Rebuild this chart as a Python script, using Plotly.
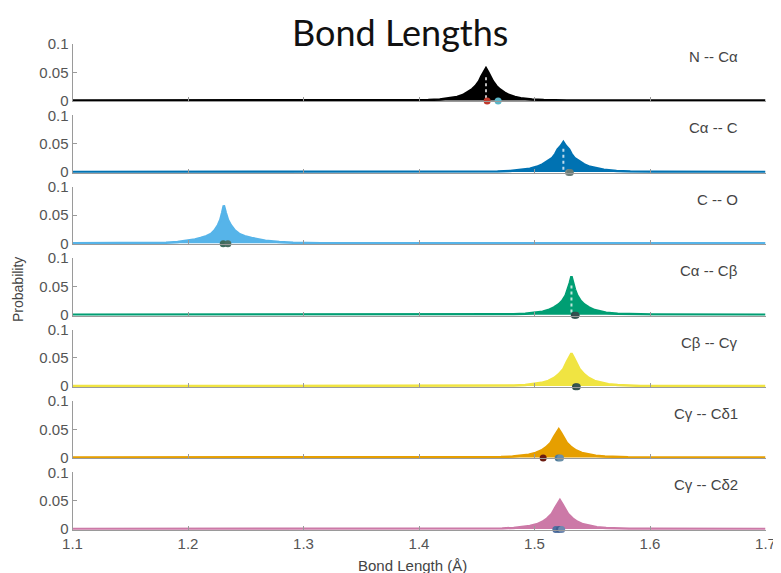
import plotly.graph_objects as go

# ---------------- data ----------------
labels = ["N -- Cα", "Cα -- C", "C -- O", "Cα -- Cβ", "Cβ -- Cγ", "Cγ -- Cδ1", "Cγ -- Cδ2"]
colors = ["#000000", "#0072B2", "#56B4E9", "#009E73", "#F0E442", "#E69F00", "#CC79A7"]

x_n_ca = [1.10, 1.388, 1.408, 1.418, 1.428, 1.433, 1.438, 1.442, 1.446, 1.449, 1.452, 1.454, 1.456, 1.458,
          1.460, 1.462, 1.464, 1.467, 1.470, 1.474, 1.478, 1.483, 1.488, 1.498, 1.508, 1.528, 1.70]
y_n_ca = [0, 0.0002, 0.0007, 0.0017, 0.004, 0.0063, 0.0097, 0.0143, 0.020, 0.0257, 0.0342, 0.0428, 0.050, 0.057,
          0.050, 0.0425, 0.034, 0.0255, 0.0198, 0.0142, 0.0097, 0.0063, 0.004, 0.0017, 0.0007, 0.0002, 0]

x_ca_c = [1.10, 1.445, 1.468, 1.479, 1.491, 1.496, 1.502, 1.507, 1.511, 1.515, 1.518, 1.520, 1.523, 1.525,
          1.527, 1.530, 1.532, 1.535, 1.539, 1.543, 1.548, 1.554, 1.560, 1.571, 1.583, 1.605, 1.70]
y_ca_c = [0, 0.0002, 0.0006, 0.0016, 0.0037, 0.0058, 0.009, 0.0133, 0.0186, 0.0239, 0.0318, 0.0398, 0.0466, 0.053,
          0.0466, 0.0398, 0.0318, 0.0239, 0.0186, 0.0133, 0.009, 0.0058, 0.0037, 0.0016, 0.0006, 0.0002, 0]

x_c_o = [1.10, 1.161, 1.181, 1.191, 1.201, 1.206, 1.211, 1.216, 1.220, 1.223, 1.226, 1.228, 1.2295, 1.231,
         1.2328, 1.2346, 1.237, 1.2406, 1.2442, 1.249, 1.255, 1.261, 1.267, 1.279, 1.291, 1.315, 1.70]
y_c_o = [0, 0.0003, 0.001, 0.0023, 0.0047, 0.0067, 0.0094, 0.0127, 0.0168, 0.0228, 0.0322, 0.0415, 0.0536, 0.067,
         0.0536, 0.0415, 0.0322, 0.0228, 0.0168, 0.0127, 0.0094, 0.0067, 0.0047, 0.0023, 0.001, 0.0003, 0]

x_ca_cb = [1.10, 1.462, 1.482, 1.492, 1.502, 1.507, 1.512, 1.517, 1.521, 1.524, 1.527, 1.529, 1.5305, 1.532,
           1.5335, 1.535, 1.537, 1.540, 1.543, 1.547, 1.552, 1.557, 1.562, 1.572, 1.582, 1.602, 1.70]
y_ca_cb = [0, 0.0002, 0.0007, 0.0016, 0.0035, 0.0054, 0.0082, 0.0129, 0.0184, 0.0245, 0.034, 0.0449, 0.0558, 0.068,
           0.0558, 0.0449, 0.034, 0.0245, 0.0184, 0.0129, 0.0082, 0.0054, 0.0035, 0.0016, 0.0007, 0.0002, 0]

x_cb_cg = [1.10, 1.452, 1.472, 1.482, 1.492, 1.500, 1.506, 1.512, 1.517, 1.521, 1.525, 1.528, 1.530, 1.532,
           1.534, 1.536, 1.539, 1.543, 1.547, 1.552, 1.558, 1.564, 1.572, 1.582, 1.592, 1.612, 1.70]
y_cb_cg = [0, 0.0001, 0.0003, 0.0009, 0.002, 0.0035, 0.0058, 0.0093, 0.0145, 0.0209, 0.0302, 0.0429, 0.0505, 0.058,
           0.0505, 0.0429, 0.0302, 0.0209, 0.0145, 0.0093, 0.0058, 0.0035, 0.002, 0.0009, 0.0003, 0.0001, 0]

x_cg_cd1 = [1.10, 1.441, 1.461, 1.471, 1.481, 1.489, 1.495, 1.501, 1.506, 1.510, 1.514, 1.517, 1.519, 1.521,
            1.523, 1.525, 1.528, 1.532, 1.536, 1.541, 1.547, 1.553, 1.561, 1.571, 1.581, 1.601, 1.70]
y_cg_cd1 = [0, 0.0001, 0.0003, 0.0008, 0.0017, 0.003, 0.005, 0.008, 0.0125, 0.018, 0.026, 0.037, 0.0435, 0.050,
            0.0435, 0.037, 0.026, 0.018, 0.0125, 0.008, 0.005, 0.003, 0.0017, 0.0008, 0.0003, 0.0001, 0]

x_cg_cd2 = [1.10, 1.442, 1.462, 1.472, 1.482, 1.490, 1.496, 1.502, 1.507, 1.511, 1.515, 1.518, 1.520, 1.522,
            1.524, 1.526, 1.529, 1.533, 1.537, 1.542, 1.548, 1.554, 1.562, 1.572, 1.582, 1.602, 1.70]
y_cg_cd2 = [0, 0.0001, 0.0003, 0.0008, 0.0017, 0.0031, 0.0051, 0.0082, 0.0128, 0.0184, 0.0265, 0.0377, 0.0444, 0.051,
            0.0444, 0.0377, 0.0265, 0.0184, 0.0128, 0.0082, 0.0051, 0.0031, 0.0017, 0.0008, 0.0003, 0.0001, 0]

series_x = [x_n_ca, x_ca_c, x_c_o, x_ca_cb, x_cb_cg, x_cg_cd1, x_cg_cd2]
series_y = [y_n_ca, y_ca_c, y_c_o, y_ca_cb, y_cb_cg, y_cg_cd1, y_cg_cd2]
# panels whose peak shows a white dotted centre streak
dotted_panels = [0, 1, 3]

# reference-value markers near the baseline of each panel
marker_x = [[1.459, 1.4685], [1.5295, 1.531], [1.2305, 1.2345], [1.5345, 1.536],
            [1.5355, 1.537], [1.5075, 1.5205, 1.5225], [1.5185, 1.5215, 1.5235]]
marker_y = [[-0.001, -0.001], [-0.001, -0.001], [-0.001, -0.001], [-0.001, -0.001],
            [-0.001, -0.001], [-0.001, -0.001, -0.001], [-0.001, -0.001, -0.001]]
marker_c = [["#c0392b", "#5bb6c8"], ["#7d8c86", "#6a7d78"], ["#3e6b5c", "#4b6f63"], ["#2b4a4a", "#33504f"],
            ["#2e4d47", "#375650"], ["#6b1a10", "#4d7c9c", "#6a8fa8"], ["#4f6fa0", "#3f5f90", "#6f88b0"]]

x_ticks = [1.1, 1.2, 1.3, 1.4, 1.5, 1.6, 1.7]
x_tick_text = ["1.1", "1.2", "1.3", "1.4", "1.5", "1.6", "1.7"]
y_ticks = [0, 0.05, 0.1]
y_tick_text = ["0", "0.05", "0.1"]

# ---------------- figure ----------------
WIN_W, WIN_H = 781, 573
OFF = 8  # default page body margin of the written html
W, H = WIN_W - OFF, WIN_H - OFF


def px_x(px):
    return (px - OFF) / W


def px_y(py):
    return 1 - (py - OFF) / H


left_px, right_px = 72.5, 765.5
top0, pitch, panel_h = 44.0, 71.4, 57.35

fig = go.Figure()
layout = dict(
    width=W, height=H, margin=dict(l=0, r=0, t=0, b=0, autoexpand=False),
    paper_bgcolor="white", plot_bgcolor="white", showlegend=False,
    font=dict(family="Liberation Sans, Arial, sans-serif", color="#555555"),
)
annotations = []
gray = "#9a9a9a"
tick_font = dict(size=15, color="#555555", family="Liberation Sans, Arial, sans-serif")
for i in range(7):
    n = "" if i == 0 else str(i + 1)
    xa, ya = "x" + n, "y" + n
    top = top0 + pitch * i
    bot = top + panel_h
    xdict = dict(
        domain=[px_x(left_px), px_x(right_px)], range=[1.1, 1.7], anchor=ya, automargin=False,
        showline=True, linecolor=gray, linewidth=1, ticks="inside", ticklen=4, tickcolor=gray,
        tickvals=x_ticks, ticktext=x_tick_text, showticklabels=(i == 6),
        showgrid=False, zeroline=False, tickfont=tick_font,
    )
    if i > 0:
        xdict["matches"] = "x"
    layout["xaxis" + n] = xdict
    layout["yaxis" + n] = dict(
        domain=[px_y(bot), px_y(top)], range=[-0.0015, 0.1], anchor=xa, automargin=False,
        showline=True, linecolor=gray, linewidth=1, ticks="inside", ticklen=4, tickcolor=gray,
        tickvals=y_ticks, ticktext=y_tick_text, showgrid=False, zeroline=False,
        tickfont=tick_font,
    )
    fig.add_trace(go.Scatter(
        x=series_x[i], y=series_y[i], mode="lines", fill="tozeroy",
        fillcolor=colors[i], line=dict(color=colors[i], width=2.5),
        xaxis=xa, yaxis=ya, hoverinfo="skip"))
    if i in dotted_panels:
        k = series_y[i].index(max(series_y[i]))
        fig.add_trace(go.Scatter(
            x=[series_x[i][k], series_x[i][k]], y=[0.004, 0.8 * series_y[i][k]], mode="lines",
            line=dict(color="rgba(255,255,255,0.75)", width=2, dash="dot"),
            xaxis=xa, yaxis=ya, hoverinfo="skip"))
    fig.add_trace(go.Scatter(
        x=marker_x[i], y=marker_y[i], mode="markers", cliponaxis=False,
        marker=dict(color=marker_c[i], size=7, line=dict(width=0)),
        xaxis=xa, yaxis=ya, hoverinfo="skip"))
    annotations.append(dict(
        x=1.678, y=0.078, xref=xa, yref=ya, text=labels[i], showarrow=False,
        xanchor="right", yanchor="middle",
        font=dict(size=15, color="#444444", family="Liberation Sans, Arial, sans-serif")))

annotations.append(dict(
    x=px_x(400), y=1.0, xref="paper", yref="paper", text="Bond Lengths", showarrow=False,
    xanchor="center", yanchor="top", font=dict(size=36, color="#111111", family="Lato, sans-serif")))
annotations.append(dict(
    x=px_x(412), y=px_y(565), xref="paper", yref="paper", text="Bond Length (Å)", showarrow=False,
    xanchor="center", yanchor="middle", font=dict(size=15, color="#444444")))
annotations.append(dict(
    x=px_x(18), y=px_y(290), xref="paper", yref="paper", text="Probability", showarrow=False,
    textangle=-90, xanchor="center", yanchor="middle", font=dict(size=14, color="#444444")))
layout["annotations"] = annotations
fig.update_layout(**layout)
fig.write_html("out.html")
